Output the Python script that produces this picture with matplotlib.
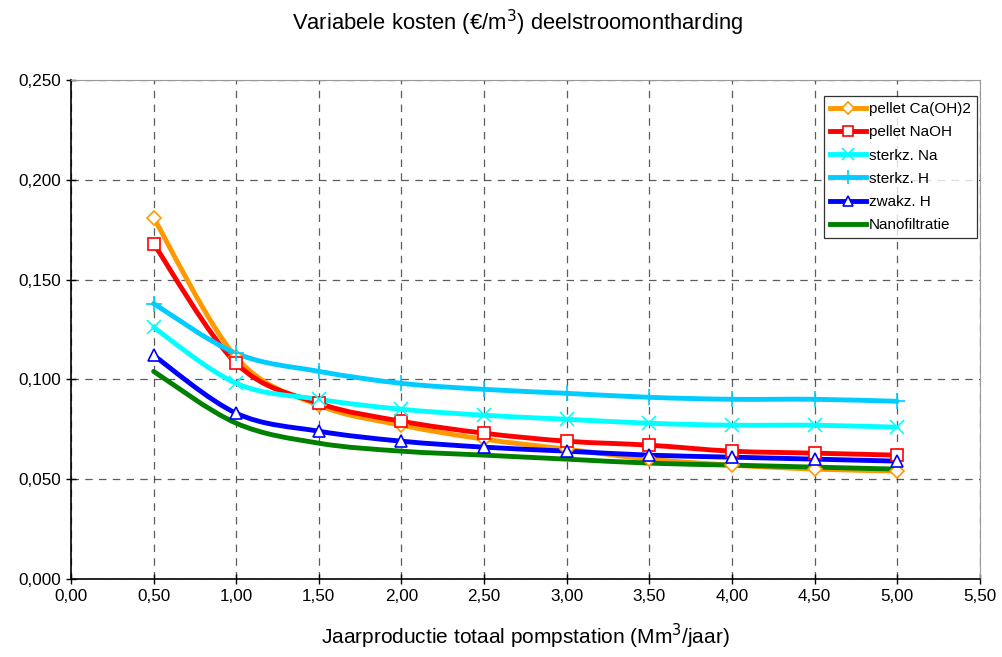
import numpy as np
import matplotlib.pyplot as plt
from matplotlib.path import Path
from matplotlib.patches import PathPatch
from matplotlib.lines import Line2D
from matplotlib.ticker import FuncFormatter, MultipleLocator

plt.rcParams['font.family'] = ['Liberation Sans', 'DejaVu Sans']

# Jaarproductie (Mm3/jaar)
x = [0.5, 1.0, 1.5, 2.0, 2.5, 3.0, 3.5, 4.0, 4.5, 5.0]

# Variabele kosten per variant (EUR/m3)
ca_oh2 = [0.181, 0.111, 0.087, 0.077, 0.070, 0.065, 0.060, 0.057, 0.055, 0.054]
naoh = [0.168, 0.108, 0.088, 0.079, 0.073, 0.069, 0.067, 0.064, 0.063, 0.062]
sterk_na = [0.126, 0.098, 0.090, 0.085, 0.082, 0.080, 0.078, 0.077, 0.077, 0.076]
sterk_h = [0.138, 0.113, 0.104, 0.098, 0.095, 0.093, 0.091, 0.090, 0.090, 0.089]
zwak_h = [0.112, 0.083, 0.074, 0.069, 0.066, 0.064, 0.062, 0.061, 0.060, 0.059]
nano = [0.104, 0.078, 0.068, 0.064, 0.062, 0.060, 0.058, 0.057, 0.056, 0.055]

series = [
    ('pellet Ca(OH)2', ca_oh2, '#FF9900', 'D', 7),
    ('pellet NaOH', naoh, '#FF0000', 's', 9),
    ('sterkz. Na', sterk_na, '#00FFFF', 'x', 10),
    ('sterkz. H', sterk_h, '#00CCFF', '+', 12),
    ('zwakz. H', zwak_h, '#0000FF', '^', 9),
    ('Nanofiltratie', nano, '#008000', None, 0),
]


def smooth_path(xs, ys, t=1 / 6):
    # Bezier segments through the points (Catmull-Rom style, like Excel smoothing)
    pts = np.column_stack([xs, ys])
    verts = [pts[0]]
    codes = [Path.MOVETO]
    n = len(pts)
    for i in range(n - 1):
        p0 = pts[max(i - 1, 0)]
        p1 = pts[i]
        p2 = pts[i + 1]
        p3 = pts[min(i + 2, n - 1)]
        c1 = p1 + (p2 - p0) * t
        c2 = p2 - (p3 - p1) * t
        verts += [c1, c2, p2]
        codes += [Path.CURVE4] * 3
    return Path(verts, codes)


fig = plt.figure(figsize=(10.03, 6.57), dpi=100)
ax = fig.add_axes([0.0708, 0.119, 0.906, 0.759])

handles = []
for label, ys, col, mk, ms in series:
    ax.add_patch(PathPatch(smooth_path(x, ys), fill=False, edgecolor=col,
                           lw=3.5, capstyle='round', zorder=3))
    if mk is not None:
        ax.plot(x, ys, linestyle='none', marker=mk, ms=ms, mfc='white' if mk not in ('x', '+') else col,
                mec=col, mew=1.2, zorder=4)
    handles.append(Line2D([], [], color=col, lw=3.5, marker=mk, ms=ms * 0.85,
                          mfc='white', mec=col, mew=1.2))

ax.set_xlim(0, 5.5)
ax.set_ylim(0, 0.25)
ax.xaxis.set_major_locator(MultipleLocator(0.5))
ax.yaxis.set_major_locator(MultipleLocator(0.05))
ax.xaxis.set_major_formatter(FuncFormatter(lambda v, p: f'{v:.2f}'.replace('.', ',')))
ax.yaxis.set_major_formatter(FuncFormatter(lambda v, p: f'{v:.3f}'.replace('.', ',')))
ax.tick_params(direction='inout', length=7, width=1, labelsize=12.3, colors='black')
ax.grid(True, color='#333333', linestyle=(0, (6, 5)), lw=0.9, alpha=0.8, zorder=1)
ax.set_axisbelow(True)

for s in ('top', 'right'):
    ax.spines[s].set_color('#999999')
    ax.spines[s].set_linewidth(0.8)
for s in ('left', 'bottom'):
    ax.spines[s].set_linewidth(1.2)

ax.set_xlabel('Jaarproductie totaal pompstation (Mm$^3$/jaar)', fontsize=15, labelpad=13)
fig.text(0.516, 0.965, 'Variabele kosten (€/m$^3$) deelstroomontharding',
         ha='center', va='center', fontsize=15.8)

leg = ax.legend(handles, [s[0] for s in series], loc='upper right',
                bbox_to_anchor=(0.9967, 0.968), fontsize=11, frameon=True,
                fancybox=False, edgecolor='black', handlelength=2.4,
                handletextpad=0.15, borderpad=0.4, labelspacing=0.6,
                borderaxespad=0)
leg.get_frame().set_linewidth(0.9)

fig.savefig('out.png', dpi=100)
